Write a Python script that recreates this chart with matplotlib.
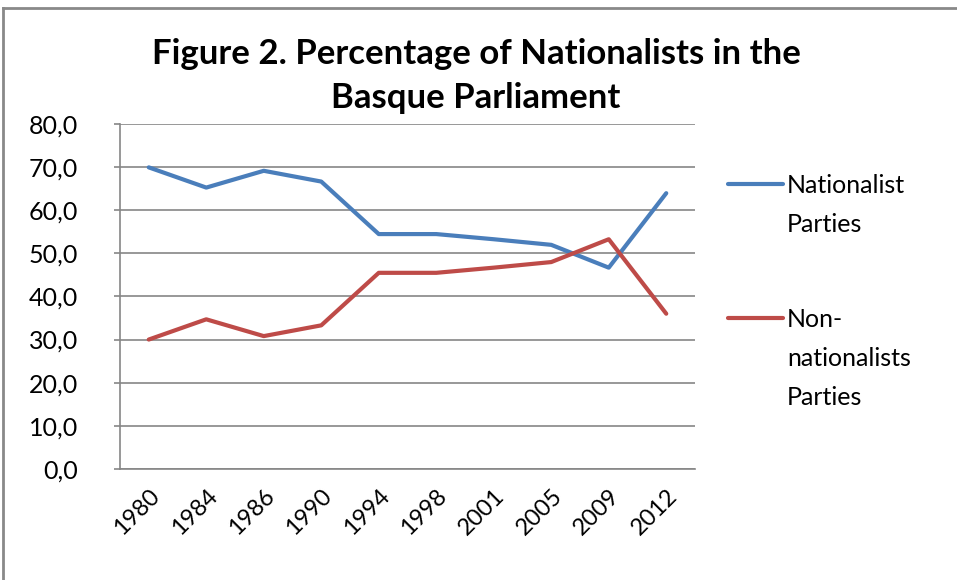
import matplotlib
matplotlib.use("Agg")
import matplotlib.pyplot as plt
from matplotlib.lines import Line2D

years = ["1980", "1984", "1986", "1990", "1994", "1998", "2001", "2005", "2009", "2012"]
nationalist = [70.0, 65.3, 69.2, 66.7, 54.5, 54.5, 53.3, 52.0, 46.7, 64.0]
non_nationalist = [30.0, 34.7, 30.8, 33.3, 45.5, 45.5, 46.7, 48.0, 53.3, 36.0]
y_ticks = [0, 10, 20, 30, 40, 50, 60, 70, 80]
legend_labels = ["Nationalist\nParties", "Non-\nnationalists\nParties"]
title = "Figure 2. Percentage of Nationalists in the\nBasque Parliament"

plt.rcParams['font.family'] = ['Lato', 'DejaVu Sans']

W, H = 957, 580
fig = plt.figure(figsize=(W/100, H/100), dpi=100)
ax = fig.add_axes([120/W, 1-468.7/H, (695-120)/W, (468.7-124.3)/H])

x = list(range(len(years)))
blue = '#4A7EBB'
red = '#BE4B48'
ax.plot(x, nationalist, color=blue, lw=3, solid_capstyle='round', solid_joinstyle='round')
ax.plot(x, non_nationalist, color=red, lw=3, solid_capstyle='round', solid_joinstyle='round')

ax.set_xlim(-0.5, len(years) - 0.5)
ax.set_ylim(0, 80)
ax.set_yticks(y_ticks)
ax.set_yticklabels([f"{v:.1f}".replace('.', ',') for v in y_ticks], fontsize=18)
ax.set_xticks(x)
ax.set_xticklabels(years, rotation=45, ha='right', rotation_mode='anchor', fontsize=17)
ax.tick_params(axis='y', length=4, width=1.2, color='#868686', pad=26)
ax.tick_params(axis='x', length=0, pad=12)

ax.grid(axis='y', color='#868686', lw=1.2)
ax.set_axisbelow(True)
for s in ['top', 'right']:
    ax.spines[s].set_visible(False)
for s in ['left', 'bottom']:
    ax.spines[s].set_color('#868686')
    ax.spines[s].set_linewidth(1.2)

fig.text(476/W, 1-76/H, title, ha='center', va='center', fontsize=25,
         fontweight='bold', linespacing=1.45)

# legend drawn manually
colors = [blue, red]
line_y = [184, 318]
for lab, col, ly in zip(legend_labels, colors, line_y):
    fig.add_artist(Line2D([728/W, 783/W], [1-ly/H, 1-ly/H], transform=fig.transFigure,
                          color=col, lw=3, solid_capstyle='round'))
    for i, part in enumerate(lab.split('\n')):
        fig.text(787/W, 1-(ly + 9 + 39*i)/H, part, ha='left', va='baseline', fontsize=18)

# outer frame (top and left edges only)
fig.add_artist(Line2D([3/W, 1], [1-8/H, 1-8/H], transform=fig.transFigure, color='#898989', lw=2))
fig.add_artist(Line2D([3/W, 3/W], [0, 1-8/H], transform=fig.transFigure, color='#898989', lw=2))

fig.savefig("out.png", dpi=100)
